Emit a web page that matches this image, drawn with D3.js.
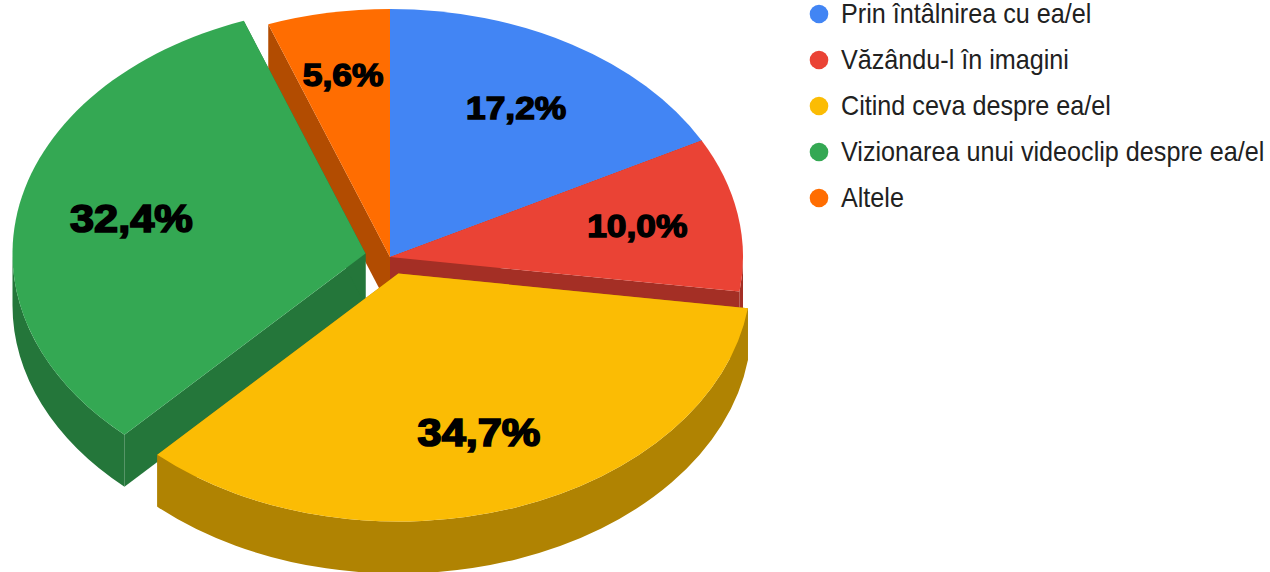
<!DOCTYPE html>
<html>
<head>
<meta charset="utf-8">
<script src="https://cdn.jsdelivr.net/npm/d3@7"></script>
<style>
  html, body { margin: 0; padding: 0; background: #fff; overflow: hidden; }
  svg { display: block; }
</style>
</head>
<body>
<div id="chart"></div>
<script>
// data
const categories = ['Prin întâlnirea cu ea/el', 'Văzându-l în imagini', 'Citind ceva despre ea/el', 'Vizionarea unui videoclip despre ea/el', 'Altele'];
const values     = [17.2, 10.0, 34.7, 32.4, 5.6];
const valueLabels = ['17,2%', '10,0%', '34,7%', '32,4%', '5,6%'];
const exploded   = [0, 0, 1, 1, 0];

// style
const colors = ['#4285f4', '#ea4335', '#fbbc04', '#34a853', '#ff6d01'];
const sides  = ['#2e5dab', '#a42f25', '#b08302', '#24763a', '#b24c01'];
const drawOrder = [0, 4, 1, 3, 2];
const labelSizes = [31, 31, 38, 38, 31];
const labelNudge = [[0, -1], [6, -1], [-1, -3], [6, -1], [-4, -13]];

let w = 1270, h = 572;
let cx = 390, cy = 257;
let R = 353, squash = 248 / 353;
let depth = 52 / squash;
let explodeBy = 25;
let labelR = 245;

let svg = d3.select('#chart').append('svg').attr('width', w).attr('height', h);
let g = svg.append('g').attr('transform', 'translate(' + cx + ',' + cy + ') scale(1,' + squash + ')');

let pie = d3.pie().sort(null).value(d => d)(values);
let arc = d3.arc().innerRadius(0).outerRadius(R);

// d3.path angles start at 3 o'clock, d3.pie at 12 o'clock
function wallOuter(a0, a1) {
    let p = d3.path();
    let s = a0 - Math.PI / 2, e = a1 - Math.PI / 2;
    p.arc(0, 0, R, s, e);
    p.lineTo(R * Math.cos(e), R * Math.sin(e) + depth);
    p.arc(0, depth, R, e, s, true);
    p.closePath();
    return p.toString();
}

function wallRadial(a) {
    let x = R * Math.sin(a), y = -R * Math.cos(a);
    let p = d3.path();
    p.moveTo(0, 0);
    p.lineTo(x, y);
    p.lineTo(x, y + depth);
    p.lineTo(0, depth);
    p.closePath();
    return p.toString();
}

function offset(i) {
    let mid = (pie[i].startAngle + pie[i].endAngle) / 2;
    let r = exploded[i] ? explodeBy : 0;
    return [r * Math.sin(mid), -r * Math.cos(mid)];
}

drawOrder.forEach(i => {
    let d = pie[i];
    let off = offset(i);
    let s = g.append('g').attr('transform', 'translate(' + off.join(',') + ')');

    s.append('path').attr('d', wallRadial(d.startAngle)).attr('fill', sides[i]);
    s.append('path').attr('d', wallRadial(d.endAngle)).attr('fill', sides[i]);

    let a0 = Math.max(d.startAngle, Math.PI / 2);
    let a1 = Math.min(d.endAngle, Math.PI * 1.5);
    if (a1 > a0) {
        s.append('path').attr('d', wallOuter(a0, a1)).attr('fill', sides[i]);
    }

    s.append('path').attr('d', arc(d)).attr('fill', colors[i]);
});

// value labels
pie.forEach((d, i) => {
    let mid = (d.startAngle + d.endAngle) / 2;
    let off = offset(i);
    let x = cx + (off[0] + labelR * Math.sin(mid)) + labelNudge[i][0];
    let y = cy + (off[1] - labelR * Math.cos(mid)) * squash + labelNudge[i][1];
    let size = labelSizes[i];
    svg.append('text')
        .attr('class', 'val')
        .attr('transform', 'translate(' + x + ',' + (y + size * 0.355) + ') scale(1.14,1)')
        .attr('text-anchor', 'middle')
        .attr('font-family', '"Liberation Sans", Arial, sans-serif')
        .attr('font-weight', 'bold')
        .attr('font-size', size)
        .attr('stroke', '#000')
        .attr('stroke-width', size * 0.045)
        .attr('fill', '#000')
        .text(valueLabels[i]);
});

// legend
let legend = svg.append('g');
categories.forEach((c, i) => {
    let y = 14 + i * 46;
    legend.append('circle').attr('cx', 819).attr('cy', y).attr('r', 9.3).attr('fill', colors[i]);
    legend.append('text')
        .attr('transform', 'translate(841,' + (y + 9) + ') scale(0.883,1)')
        .attr('font-family', '"Liberation Sans", Arial, sans-serif')
        .attr('font-size', 28.5)
        .attr('fill', '#212121')
        .text(c);
});
</script>
</body>
</html>
